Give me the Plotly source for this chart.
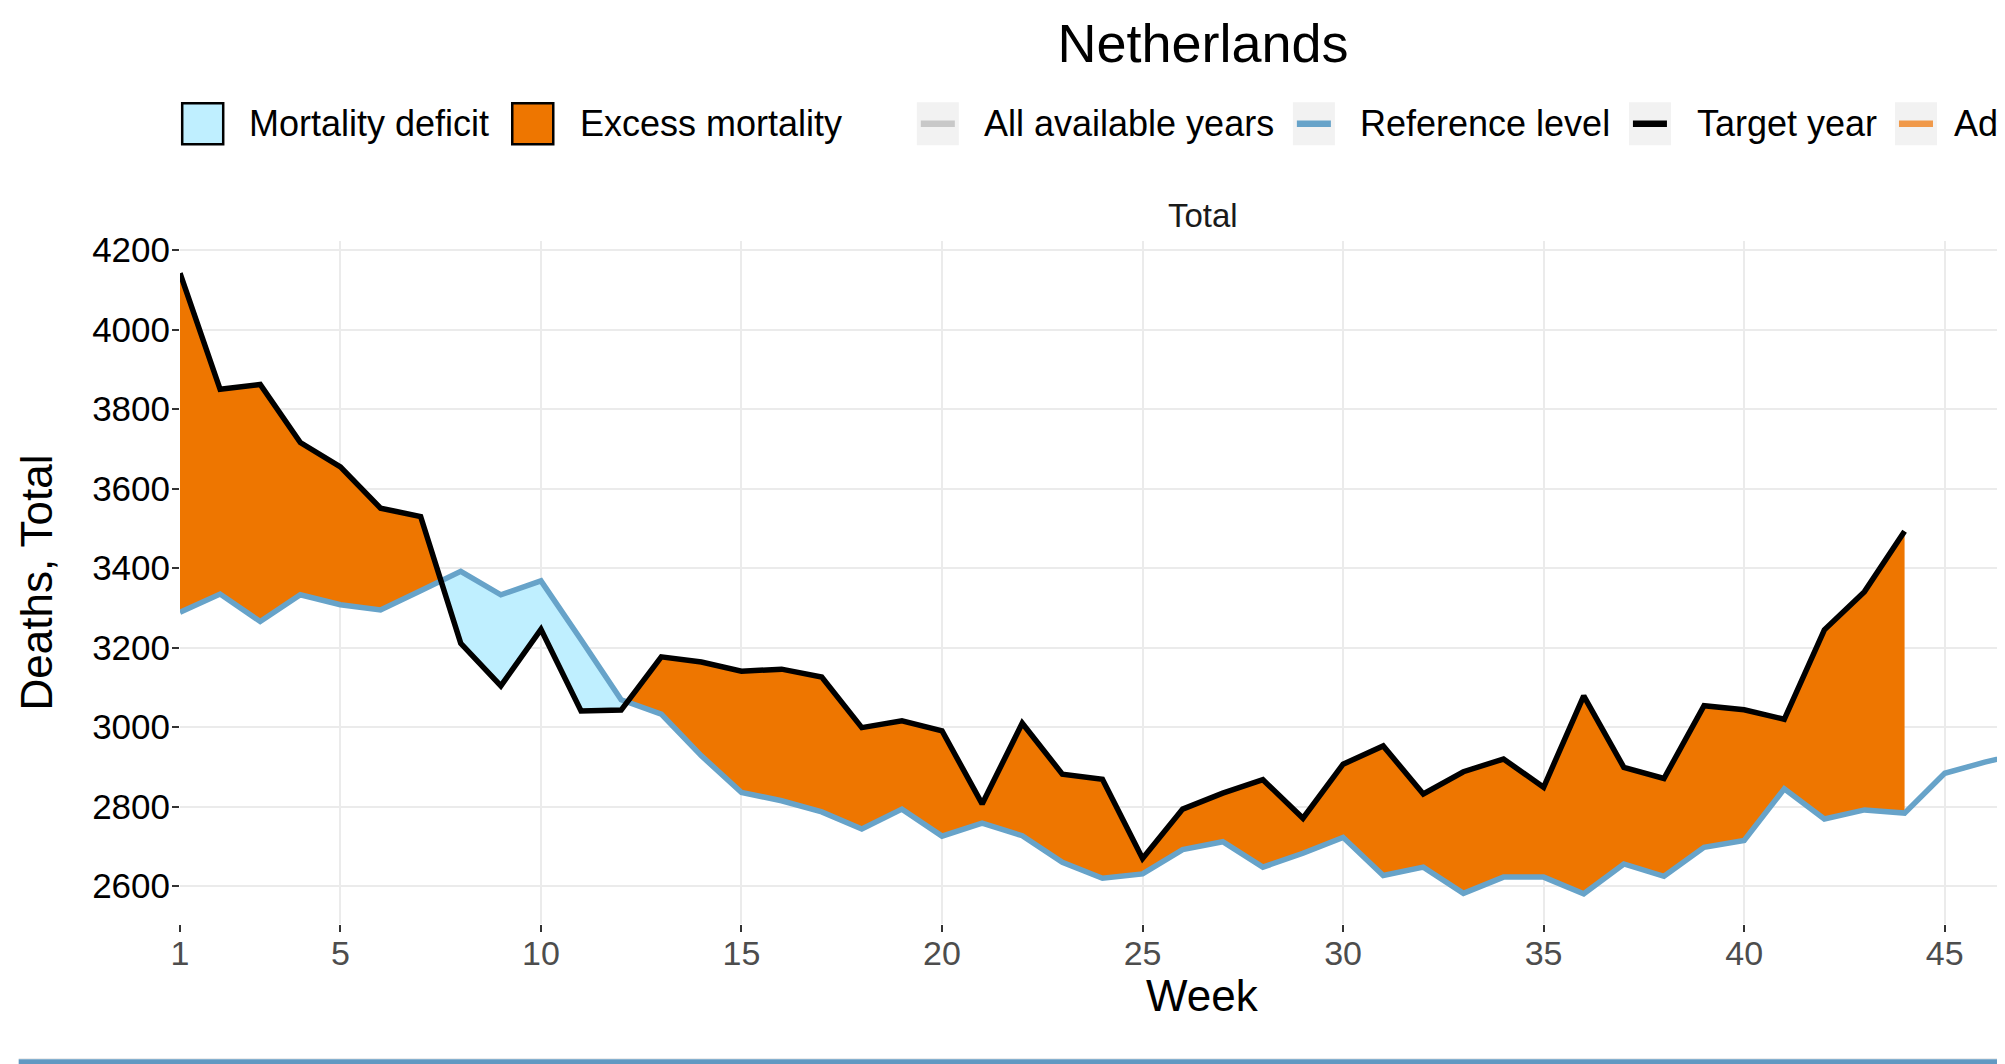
import plotly.graph_objects as go
import numpy as np

# ---------------- data ----------------
weeks_ref = list(range(1, 53))
reference_level = [3289, 3335, 3266, 3333, 3308, 3295, 3343, 3392, 3333, 3368,
                   3220, 3069, 3033, 2928, 2836, 2815, 2787, 2744, 2794, 2726,
                   2759, 2727, 2660, 2620, 2631, 2692, 2712, 2648, 2683, 2723,
                   2627, 2648, 2582, 2623, 2623, 2581, 2656, 2625, 2698, 2715,
                   2845, 2769, 2792, 2784, 2884, 2912, 2936, 2960, 2990, 3030,
                   3070, 3110]
weeks_target = list(range(1, 45))
target_year = [4142, 3850, 3862, 3716, 3655, 3551, 3530, 3211, 3104, 3246,
               3041, 3043, 3177, 3164, 3141, 3146, 3126, 2999, 3016, 2991,
               2807, 3010, 2882, 2869, 2670, 2794, 2834, 2868, 2771, 2907,
               2953, 2832, 2888, 2920, 2849, 3079, 2899, 2871, 3054, 3044,
               3020, 3245, 3341, 3493]
x_ticks = [1, 5, 10, 15, 20, 25, 30, 35, 40, 45, 50]
y_ticks = [2600, 2800, 3000, 3200, 3400, 3600, 3800, 4000, 4200]
fill_labels = ["Mortality deficit", "Excess mortality"]
line_labels = ["All available years", "Reference level", "Target year", "Additional year"]

# ---------------- styling ----------------
OFF = 8  # page body margin in the browser
W, H = 2005, 1064
ML, MR, MT, MB = 180.3 - OFF, 0, 240.5 - OFF, H - (924.5 - OFF)
FONT = "Liberation Sans, Arial, Helvetica, sans-serif"
C_EXCESS = "#EE7600"
C_DEFICIT = "#BFEFFF"
C_REF = "#67A3C9"
C_TARGET = "#000000"
C_ALL = "#C8C8C8"
C_ADD = "#F0994A"
PX_PER_WEEK = 40.1
x_max = 1 + (W - ML - MR) / PX_PER_WEEK

# ---------------- fill geometry (with crossing points) ----------------
ref_t = np.array(reference_level[:len(weeks_target)], dtype=float)
tgt = np.array(target_year, dtype=float)
wk = np.array(weeks_target, dtype=float)
xs, ts, rs = [], [], []
for i in range(len(wk)):
    xs.append(wk[i]); ts.append(tgt[i]); rs.append(ref_t[i])
    if i < len(wk) - 1:
        d0 = tgt[i] - ref_t[i]
        d1 = tgt[i + 1] - ref_t[i + 1]
        if d0 * d1 < 0:
            f = d0 / (d0 - d1)
            xc = wk[i] + f * (wk[i + 1] - wk[i])
            yc = ref_t[i] + f * (ref_t[i + 1] - ref_t[i])
            xs.append(xc); ts.append(yc); rs.append(yc)
xs = np.array(xs); ts = np.array(ts); rs = np.array(rs)
upper = np.maximum(ts, rs)
lower = np.minimum(ts, rs)

fig = go.Figure()
fig.add_trace(go.Scatter(x=xs, y=rs, mode="lines", line=dict(width=0), hoverinfo="skip", showlegend=False))
fig.add_trace(go.Scatter(x=xs, y=upper, mode="lines", line=dict(width=0), fill="tonexty",
                         fillcolor=C_EXCESS, name=fill_labels[1], showlegend=False))
fig.add_trace(go.Scatter(x=xs, y=rs, mode="lines", line=dict(width=0), hoverinfo="skip", showlegend=False))
fig.add_trace(go.Scatter(x=xs, y=lower, mode="lines", line=dict(width=0), fill="tonexty",
                         fillcolor=C_DEFICIT, name=fill_labels[0], showlegend=False))
fig.add_trace(go.Scatter(x=weeks_ref, y=reference_level, mode="lines",
                         line=dict(color=C_REF, width=5.5), name=line_labels[1], showlegend=False))
fig.add_trace(go.Scatter(x=weeks_target, y=target_year, mode="lines",
                         line=dict(color=C_TARGET, width=5.5), name=line_labels[2], showlegend=False))

# ---------------- helpers for pixel placement (screen px -> paper) ----------------
PW = W - ML - MR
PH = H - MT - MB
def px_x(p):
    return (p - OFF - ML) / PW
def px_y(p):
    return (H - MB - (p - OFF)) / PH

shapes = []
annotations = []
key_y0, key_y1 = 102.5, 143.5
key_cy = 123
for (x0, x1, tx, col, lab) in [(182.5, 223.5, 247, C_DEFICIT, fill_labels[0]),
                               (512.5, 553.5, 578, C_EXCESS, fill_labels[1])]:
    shapes.append(dict(type="rect", xref="paper", yref="paper",
                       x0=px_x(x0), x1=px_x(x1), y0=px_y(key_y1), y1=px_y(key_y0),
                       fillcolor=col, line=dict(color="black", width=2.5), layer="above"))
    annotations.append(dict(x=px_x(tx), y=px_y(key_cy), xref="paper", yref="paper",
                            text=lab, showarrow=False, xanchor="left", yanchor="middle",
                            font=dict(size=36, color="black", family=FONT)))
for (x0, tx, col, lab) in [(917, 982, C_ALL, line_labels[0]),
                           (1293, 1358, C_REF, line_labels[1]),
                           (1629, 1695, C_TARGET, line_labels[2]),
                           (1895, 1952, C_ADD, line_labels[3])]:
    shapes.append(dict(type="rect", xref="paper", yref="paper",
                       x0=px_x(x0), x1=px_x(x0 + 42), y0=px_y(key_y1 + 1), y1=px_y(key_y0 - 1),
                       fillcolor="#F2F2F2", line=dict(width=0), layer="above"))
    shapes.append(dict(type="line", xref="paper", yref="paper",
                       x0=px_x(x0 + 4), x1=px_x(x0 + 38), y0=px_y(key_cy), y1=px_y(key_cy),
                       line=dict(color=col, width=6.5), layer="above"))
    annotations.append(dict(x=px_x(tx), y=px_y(key_cy), xref="paper", yref="paper",
                            text=lab, showarrow=False, xanchor="left", yanchor="middle",
                            font=dict(size=36, color="black", family=FONT)))
# strip label
annotations.append(dict(x=px_x(1203), y=px_y(215), xref="paper", yref="paper", text="Total",
                        showarrow=False, xanchor="center", yanchor="middle",
                        font=dict(size=33, color="#1A1A1A", family=FONT)))
# x-axis title (centred on the full panel, which continues past the window edge)
annotations.append(dict(x=px_x(1203), y=px_y(996), xref="paper", yref="paper", text="Week",
                        showarrow=False, xanchor="center", yanchor="middle",
                        font=dict(size=44, color="black", family=FONT)))
# bottom page border
shapes.append(dict(type="rect", xref="paper", yref="paper", x0=px_x(19), x1=px_x(2100),
                   y0=px_y(1060), y1=px_y(1059), fillcolor="#E6E6E6", line=dict(width=0), layer="above"))
shapes.append(dict(type="rect", xref="paper", yref="paper", x0=px_x(19), x1=px_x(2100),
                   y0=px_y(1066), y1=px_y(1060), fillcolor="#6199C2", line=dict(width=0), layer="above"))

fig.update_layout(
    width=W, height=H,
    margin=dict(l=ML, r=MR, t=MT, b=MB, pad=0),
    paper_bgcolor="white", plot_bgcolor="white",
    font=dict(family=FONT, color="black"),
    title=dict(text="Netherlands", x=(1203 - OFF) / W, xref="container", xanchor="center",
               y=1 - (43 - OFF) / H, yref="container", yanchor="middle",
               font=dict(size=54, color="black", family=FONT)),
    showlegend=False,
    shapes=shapes,
    annotations=annotations,
    xaxis=dict(range=[1, x_max], tickvals=x_ticks, ticktext=[str(v) for v in x_ticks],
               showgrid=True, gridcolor="#EBEBEB", gridwidth=2, zeroline=False, showline=False,
               ticks="outside", ticklen=7, tickwidth=2, tickcolor="#333333",
               ticklabelstandoff=-8,
               tickfont=dict(size=34, color="#4D4D4D", family=FONT)),
    yaxis=dict(range=[2505, 4223], tickvals=y_ticks, ticktext=[str(v) for v in y_ticks],
               showgrid=True, gridcolor="#EBEBEB", gridwidth=2, zeroline=False, showline=False,
               ticks="outside", ticklen=7, tickwidth=2, tickcolor="#333333",
               ticklabelstandoff=-5,
               tickfont=dict(size=35, color="black", family=FONT),
               title=dict(text="Deaths, Total", font=dict(size=44, color="black", family=FONT), standoff=25)),
)

fig.write_html("out.html")
